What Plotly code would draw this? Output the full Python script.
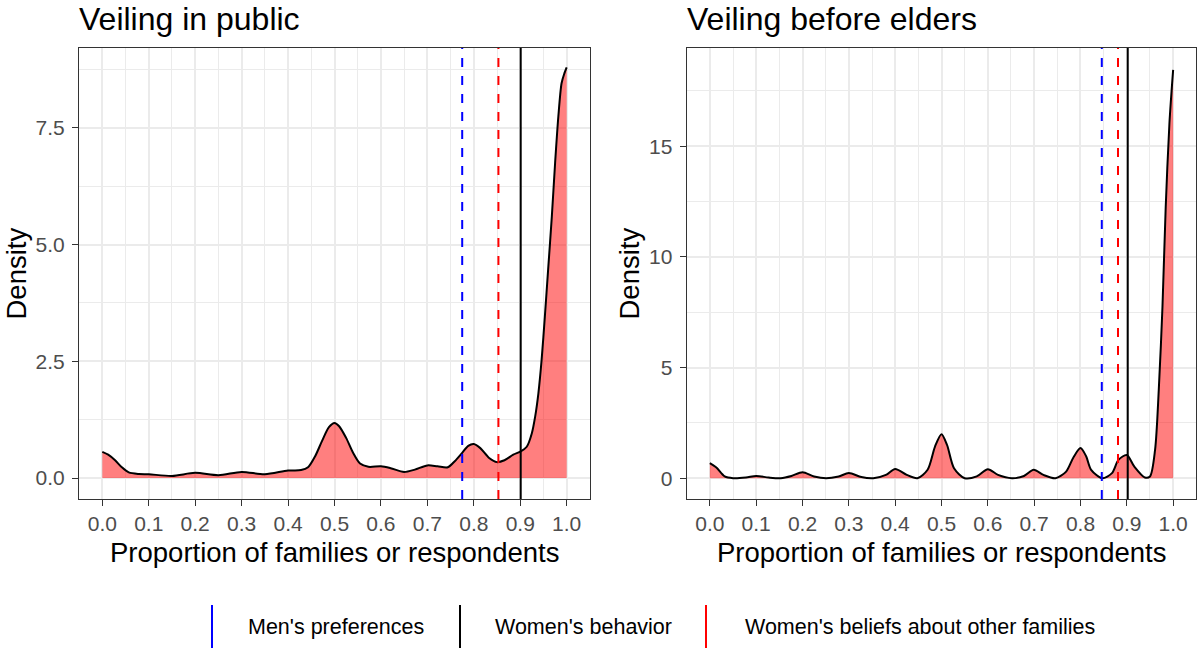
import plotly.graph_objects as go

# ---- data -------------------------------------------------------------
# Density of the share of families / respondents, veiling in public
public_x = [0.0, 0.0126, 0.0275, 0.042, 0.057, 0.079, 0.1, 0.15, 0.2, 0.25, 0.3,
            0.35, 0.4, 0.428, 0.443, 0.458, 0.473, 0.488, 0.5, 0.51, 0.525, 0.54,
            0.555, 0.573, 0.6, 0.621, 0.65, 0.673, 0.7, 0.722, 0.744, 0.759, 0.775,
            0.788, 0.8, 0.814, 0.833, 0.85, 0.866, 0.885, 0.901, 0.914, 0.925,
            0.932, 0.939, 0.946, 0.953, 0.960, 0.968, 0.975, 0.982, 0.989, 0.995, 1.0]
public_density = [0.56, 0.50, 0.38, 0.23, 0.12, 0.086, 0.08, 0.045, 0.11, 0.06, 0.13,
                  0.08, 0.16, 0.17, 0.23, 0.46, 0.79, 1.09, 1.18, 1.11, 0.86, 0.54,
                  0.31, 0.24, 0.25, 0.21, 0.13, 0.18, 0.27, 0.25, 0.23, 0.36, 0.54,
                  0.69, 0.73, 0.64, 0.43, 0.34, 0.38, 0.50, 0.57, 0.67, 0.96,
                  1.31, 1.81, 2.53, 3.46, 4.46, 5.60, 6.74, 7.74, 8.46, 8.67, 8.80]

# Density for veiling before elders
elders_x = [0.0, 0.014, 0.032, 0.05, 0.078, 0.1, 0.127, 0.153, 0.176, 0.2, 0.225,
            0.251, 0.278, 0.3, 0.327, 0.353, 0.38, 0.4, 0.425, 0.448, 0.47, 0.486,
            0.5, 0.512, 0.527, 0.55, 0.576, 0.6, 0.622, 0.652, 0.678, 0.699, 0.72,
            0.746, 0.769, 0.785, 0.8, 0.812, 0.823, 0.847, 0.868, 0.882, 0.9, 0.916,
            0.939, 0.95, 0.961, 0.969, 0.977, 0.984, 0.992, 1.0]
elders_density = [0.68, 0.48, 0.08, 0.0, 0.03, 0.1, 0.03, 0.0, 0.1, 0.27, 0.08,
                  0.0, 0.08, 0.23, 0.05, 0.0, 0.15, 0.42, 0.15, 0.0, 0.38, 1.43,
                  1.99, 1.5, 0.45, 0.0, 0.08, 0.41, 0.15, 0.0, 0.1, 0.38, 0.15,
                  0.0, 0.3, 0.95, 1.36, 1.0, 0.38, 0.0, 0.23, 0.83, 1.05, 0.53,
                  0.03, 0.08, 1.28, 3.99, 7.76, 12.27, 16.04, 18.45]

# Reference proportions (means) per panel
public_lines = {"men": 0.775, "women_beliefs": 0.853, "women_behavior": 0.901}
elders_lines = {"men": 0.846, "women_beliefs": 0.881, "women_behavior": 0.902}

panel_titles = ["Veiling in public", "Veiling before elders"]
x_ticks = [round(i * 0.1, 1) for i in range(11)]
x_ticktext = [f"{v:.1f}" for v in x_ticks]
public_yticks = [0, 2.5, 5, 7.5]
public_yticktext = ["0.0", "2.5", "5.0", "7.5"]
elders_yticks = [0, 5, 10, 15]
elders_yticktext = ["0", "5", "10", "15"]

legend_labels = ["Men's preferences", "Women's behavior",
                 "Women's beliefs about other families"]
legend_colors = ["#0000FF", "#000000", "#FF0000"]

# ---- figure -----------------------------------------------------------
W, H = 1197, 648
FONT = "Liberation Sans, Arial, sans-serif"
GRID = "#EBEBEB"
TICKTXT = "#4D4D4D"

fig = go.Figure()


def px_x(v):
    return v / W


def px_y(v):
    return 1 - v / H


panels = [
    ("x", "y", public_x, public_density, public_lines),
    ("x2", "y2", elders_x, elders_density, elders_lines),
]
for xa, ya, xs, ds, lines in panels:
    fig.add_trace(go.Scatter(
        x=xs, y=ds, xaxis=xa, yaxis=ya, mode="lines",
        line=dict(width=0, shape="spline", smoothing=0.8),
        fill="tozeroy", fillcolor="rgba(255,0,0,0.5)",
        hoverinfo="skip", showlegend=False))
    fig.add_trace(go.Scatter(
        x=xs, y=ds, xaxis=xa, yaxis=ya, mode="lines",
        line=dict(color="black", width=2, shape="spline", smoothing=0.8),
        showlegend=False))
    for key, color, dash in [("men", "#0000FF", "dash"),
                             ("women_beliefs", "#FF0000", "dash"),
                             ("women_behavior", "#000000", "solid")]:
        fig.add_shape(type="line", xref=xa, yref=f"{ya} domain",
                      x0=lines[key], x1=lines[key], y0=0, y1=1,
                      line=dict(color=color, width=2, dash=dash))

y_dom = [px_y(499), px_y(48)]
axis_common = dict(
    showline=True, mirror=True, linecolor="#333333", linewidth=1.3,
    showgrid=True, gridcolor=GRID, gridwidth=2, zeroline=False,
    ticks="outside", ticklen=6, tickwidth=1.3, tickcolor="#333333",
    tickfont=dict(family=FONT, size=21, color=TICKTXT),
)

fig.update_layout(
    width=W, height=H, margin=dict(l=0, r=0, t=0, b=0),
    paper_bgcolor="white", plot_bgcolor="white",
    font=dict(family=FONT),
    xaxis=dict(domain=[px_x(79.1), px_x(589.9)], range=[-0.05, 1.05],
               tickvals=x_ticks, ticktext=x_ticktext,
               minor=dict(dtick=0.05, tick0=0, showgrid=True, gridcolor=GRID,
                          gridwidth=1, ticklen=0),
               **axis_common),
    yaxis=dict(domain=y_dom, range=[-0.45, 9.214],
               tickvals=public_yticks, ticktext=public_yticktext,
               minor=dict(dtick=1.25, tick0=0, showgrid=True, gridcolor=GRID,
                          gridwidth=1, ticklen=0),
               ticklabelstandoff=3,
               **axis_common),
    xaxis2=dict(domain=[px_x(686.7), px_x(1196.3)], range=[-0.05, 1.05],
                anchor="y2",
                tickvals=x_ticks, ticktext=x_ticktext,
                minor=dict(dtick=0.05, tick0=0, showgrid=True, gridcolor=GRID,
                           gridwidth=1, ticklen=0),
                **axis_common),
    yaxis2=dict(domain=y_dom, range=[-0.94, 19.44], anchor="x2",
                tickvals=elders_yticks, ticktext=elders_yticktext,
                minor=dict(dtick=2.5, tick0=0, showgrid=True, gridcolor=GRID,
                           gridwidth=1, ticklen=0),
                ticklabelstandoff=3,
                **axis_common),
)

# panel titles
for title, left in zip(panel_titles, [79.1, 686.7]):
    fig.add_annotation(text=title, xref="paper", yref="paper",
                       x=px_x(left - 2), y=px_y(19), xanchor="left", yanchor="middle",
                       showarrow=False, font=dict(family=FONT, size=32, color="black"))

# axis titles
for cx in [(79.1 + 589.9) / 2, (686.7 + 1196.3) / 2]:
    fig.add_annotation(text="Proportion of families or respondents",
                       xref="paper", yref="paper", x=px_x(cx), y=px_y(552),
                       xanchor="center", yanchor="middle", showarrow=False,
                       font=dict(family=FONT, size=27.5, color="black"))
for cx in [16, 629]:
    fig.add_annotation(text="Density", xref="paper", yref="paper",
                       x=px_x(cx), y=px_y(273.5), textangle=-90,
                       xanchor="center", yanchor="middle", showarrow=False,
                       font=dict(family=FONT, size=27.5, color="black"))

# legend: vertical keys with labels
key_x = [212, 460, 706]
text_x = [248, 495, 745]
for lab, col, kx, tx in zip(legend_labels, legend_colors, key_x, text_x):
    fig.add_shape(type="line", xref="paper", yref="paper",
                  x0=px_x(kx), x1=px_x(kx), y0=px_y(605), y1=px_y(648),
                  line=dict(color=col, width=2))
    fig.add_annotation(text=lab, xref="paper", yref="paper",
                       x=px_x(tx - 2), y=px_y(627), xanchor="left", yanchor="middle",
                       showarrow=False, font=dict(family=FONT, size=21.5, color="black"))

fig.write_html("out.html")
